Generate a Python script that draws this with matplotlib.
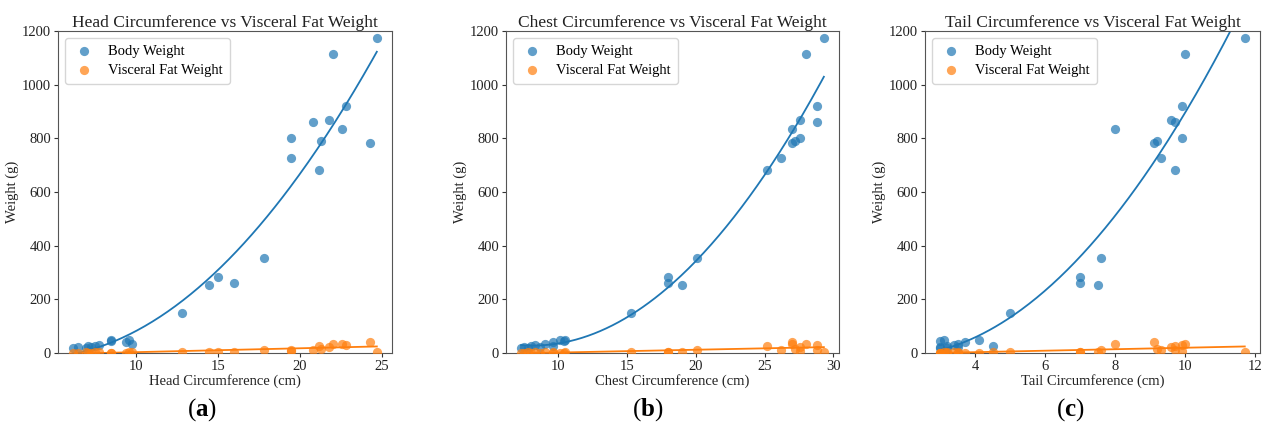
import numpy as np
import matplotlib
matplotlib.use("Agg")
import matplotlib.pyplot as plt

plt.rcParams['font.family'] = ['Liberation Serif', 'DejaVu Serif']
plt.rcParams['mathtext.fontset'] = 'custom'
plt.rcParams['mathtext.rm'] = 'Liberation Serif'
plt.rcParams['mathtext.bf'] = 'Liberation Serif:bold'

# Per-animal measurements
head_cm = [6.2, 6.5, 7.0, 7.1, 7.8, 7.3, 9.8, 9.4, 7.5, 8.5, 8.5, 9.6,
           12.8, 14.5, 15.0, 16.0, 17.8, 19.5, 19.5, 20.8, 21.2, 21.3,
           21.8, 22.0, 22.6, 22.8, 24.3, 24.7]
chest_cm = [7.3, 7.5, 7.8, 8.0, 8.3, 8.7, 9.0, 9.6, 9.6, 10.1, 10.4, 10.5,
            15.3, 19.0, 18.0, 18.0, 20.1, 27.6, 26.2, 28.8, 25.2, 27.2,
            27.6, 28.0, 27.0, 28.8, 27.0, 29.3]
tail_cm = [3.0, 3.0, 3.2, 3.2, 3.4, 3.5, 3.5, 3.7, 4.5, 4.1, 3.0, 3.1,
           5.0, 7.5, 7.0, 7.0, 7.6, 9.9, 9.3, 9.7, 9.7, 9.2,
           9.6, 10.0, 8.0, 9.9, 9.1, 11.7]
body_weight = [20, 22, 20, 25, 28, 22, 35, 40, 25, 48, 45, 48,
               148, 253, 283, 260, 355, 800, 727, 862, 683, 790,
               870, 1113, 833, 922, 783, 1173]
fat_weight = [1, 0.5, 2, 1, 3, 0.5, 2, 1, 2, 1, 0.5, 2,
              5, 3, 4, 2, 10, 8, 10, 12, 25, 15,
              22, 35, 35, 30, 40, 5]

titles = ["Head Circumference vs Visceral Fat Weight",
          "Chest Circumference vs Visceral Fat Weight",
          "Tail Circumference vs Visceral Fat Weight"]
xlabels = ["Head Circumference (cm)", "Chest Circumference (cm)", "Tail Circumference (cm)"]
xticks_list = [[10, 15, 20, 25], [10, 15, 20, 25, 30], [4, 6, 8, 10, 12]]
letters = ["a", "b", "c"]
yticks = [0, 200, 400, 600, 800, 1000, 1200]

W, H = 1266, 425
fig = plt.figure(figsize=(W / 100, H / 100), dpi=100)
boxes = [(58, 392), (506, 839), (925, 1260)]
caption_x = [202, 648, 1070]
top, bottom = 31, 353
blue = '#1f77b4'
orange = '#ff7f0e'

for i, xs in enumerate([head_cm, chest_cm, tail_cm]):
    l, r = boxes[i]
    ax = fig.add_axes([l / W, 1 - bottom / H, (r - l) / W, (bottom - top) / H])
    x = np.array(xs, dtype=float)
    bw = np.array(body_weight, dtype=float)
    fw = np.array(fat_weight, dtype=float)
    ax.scatter(x, bw, s=44, color=blue, alpha=0.7, linewidths=0, label='Body Weight', zorder=3)
    ax.scatter(x, fw, s=44, color=orange, alpha=0.7, linewidths=0, label='Visceral Fat Weight', zorder=3)
    xx = np.linspace(x.min(), x.max(), 200)
    pb = np.polyfit(x, bw, 2)
    pf = np.polyfit(x, fw, 1)
    ax.plot(xx, np.polyval(pb, xx), color=blue, lw=1.3)
    ax.plot(xx, np.polyval(pf, xx), color=orange, lw=1.3)
    rng = x.max() - x.min()
    ax.set_xlim(x.min() - 0.05 * rng, x.max() + 0.05 * rng)
    ax.set_ylim(0, 1200)
    ax.set_xticks(xticks_list[i])
    ax.set_yticks(yticks)
    ax.tick_params(labelsize=10.5, length=3, pad=2, colors='#333333', labelcolor='#222222')
    for s in ax.spines.values():
        s.set_color('#555555')
    ax.set_title(titles[i], fontsize=12.5, pad=3, color='#222222')
    ax.set_xlabel(xlabels[i], fontsize=10.5, labelpad=1, color='#222222')
    ax.set_ylabel('Weight (g)', fontsize=10.5, labelpad=2, color='#222222')
    ax.legend(loc='upper left', fontsize=10.5, frameon=True, fancybox=True,
              borderpad=0.45, handletextpad=0.9, handlelength=1.6, labelspacing=0.4)
    fig.text(caption_x[i] / W, 1 - 410 / H, r"($\mathbf{%s}$)" % letters[i],
             ha='center', va='center', fontsize=18)

fig.savefig('out.png', dpi=100)
